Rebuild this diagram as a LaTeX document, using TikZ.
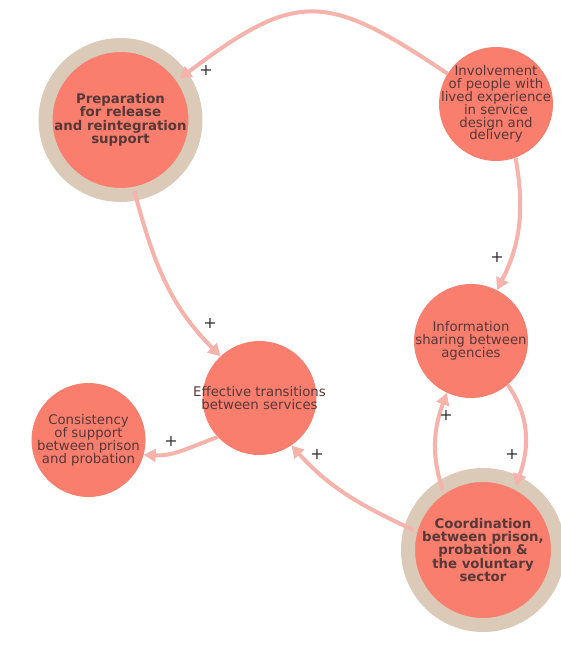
\documentclass[tikz,border=0pt]{standalone}
\usepackage{fontspec}
\setmainfont{DejaVu Sans}
\usetikzlibrary{arrows.meta}
\definecolor{nodefill}{HTML}{F97E6E}
\definecolor{ringcol}{HTML}{DACAB7}
\definecolor{linkcol}{HTML}{F5B3AB}
\definecolor{labelcol}{HTML}{573838}
\definecolor{signcol}{HTML}{333333}
\begin{document}
\begin{tikzpicture}[x=1pt,y=1pt,
  factortext/.style={align=center, text=labelcol, inner sep=0pt,
    font=\fontsize{13.3}{12.9}\selectfont},
  keytext/.style={factortext, font=\bfseries\fontsize{13.3}{13.4}\selectfont},
  factor/.style={circle, fill=nodefill, minimum size=114pt, inner sep=0pt,
    label={[factortext]center:#1}},
  keyfactor/.style={circle, fill=nodefill, minimum size=150pt, inner sep=0pt,
    draw=ringcol, line width=14pt, outer sep=-3pt,
    label={[keytext]center:#1}},
  link/.style={draw=linkcol, line width=4pt, -{Triangle[length=12pt,width=13pt]}},
  sign/.style={text=signcol, font=\fontsize{16}{16}\selectfont, inner sep=0pt}]

% canvas
\fill[white] (0,0) rectangle (561,-657);
\useasboundingbox (0,0) rectangle (561,-657);

% factors
\node[keyfactor={Preparation\\for release\\and reintegration\\support}] (prep) at (120.5,-120) {};
\node[factor={Involvement\\of people with\\lived experience\\in service\\design and\\delivery}] (inv) at (496,-104) {};
\node[factor={Information\\sharing between\\agencies}] (info) at (471,-341) {};
\node[factor={Effective transitions\\between services}] (eff) at (259.5,-398) {};
\node[factor={Consistency\\of support\\between prison\\and probation}] (cons) at (88.5,-440) {};
\node[keyfactor={Coordination\\between prison,\\probation \&\\the voluntary\\sector}] (coord) at (483,-550) {};

% causal links
\draw[link] (inv.148) to[out=146,in=37,looseness=1.4] (prep.35);
\draw[link] (inv.-70) to[out=-80,in=63] (info.63);
\draw[link] (prep.-79) to[out=-75,in=135] (eff.133);
\draw[link] (eff.223) to[out=200,in=-3] (cons.-15);
\draw[link] (coord.164) to[out=155,in=-48] (eff.-56);
\draw[link] (coord.124) to[out=108,in=250] (info.245);
\draw[link] (info.-50) to[out=-55,in=70] (coord.63);

% polarity signs
\node[sign] (s1) at (206,-70) {+};
\node[sign] (s2) at (497,-257) {+};
\node[sign] (s3) at (210,-323) {+};
\node[sign] (s4) at (171,-441) {+};
\node[sign] (s5) at (317,-454) {+};
\node[sign] (s6) at (446,-415) {+};
\node[sign] (s7) at (512,-454) {+};
\end{tikzpicture}
\end{document}
